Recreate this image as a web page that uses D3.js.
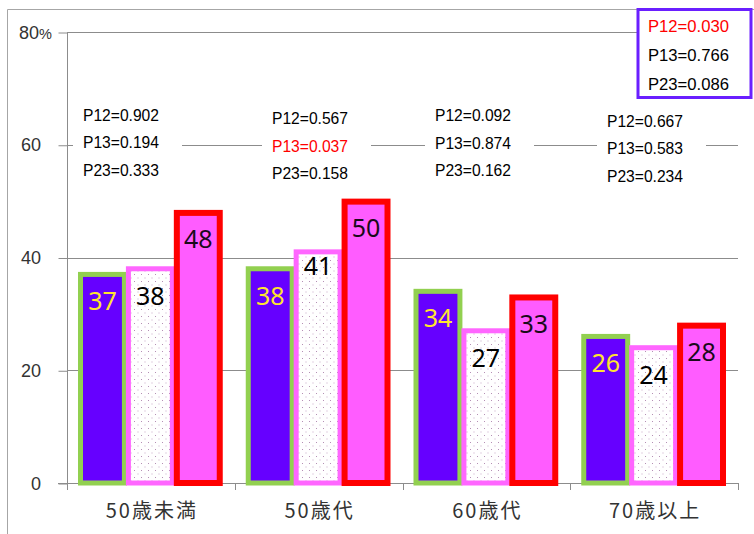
<!DOCTYPE html>
<html><head><meta charset="utf-8">
<script src="https://cdn.jsdelivr.net/npm/d3@7"></script>
<style>html,body{margin:0;padding:0;background:#fff;}svg{display:block;}</style>
</head><body>
<svg id="chart" width="754" height="534"></svg>
<script>
// ---- data ----
const categories = ["50歳未満", "50歳代", "60歳代", "70歳以上"];
const series1 = [37, 38, 34, 26];
const series2 = [38, 41, 27, 24];
const series3 = [48, 50, 33, 28];
const yTicks = [0, 20, 40, 60, 80];
const yTickLabels = ["0", "20", "40", "60", "80"];
// p-values per category, last entry = overall
const p12 = [0.902, 0.567, 0.092, 0.667, 0.030];
const p13 = [0.194, 0.037, 0.874, 0.583, 0.766];
const p23 = [0.333, 0.158, 0.162, 0.234, 0.086];

// ---- layout ----
const svg = d3.select("#chart");
const x = d3.scaleBand().domain(categories).range([67, 738]).padding(0);
const y = d3.scaleLinear().domain([0, 80]).range([483, 32]);
const xi = d3.scaleBand().domain([0, 1, 2]).range([11, x.bandwidth() - 13]).padding(0);
const axisColor = "#8c8c8c";

// outer frame
svg.append("path").attr("d", "M7.5,534V9.5H754").attr("fill", "none").attr("stroke", "#a6a6a6").attr("stroke-width", 1);

// pattern for series 2
const defs = svg.append("defs");
const pat = defs.append("pattern").attr("id", "dots").attr("patternUnits", "userSpaceOnUse")
  .attr("width", 7).attr("height", 7);
pat.append("rect").attr("width", 7).attr("height", 7).attr("fill", "#ffffff");
pat.append("rect").attr("x", 1).attr("y", 1).attr("width", 1).attr("height", 1).attr("fill", "#b58fb5");
pat.append("rect").attr("x", 4.5).attr("y", 4.5).attr("width", 1).attr("height", 1).attr("fill", "#c9a9c9");

// gridlines
svg.append("g").selectAll("line").data(yTicks.filter(d => d > 0)).join("line")
  .attr("x1", 67).attr("x2", 738)
  .attr("y1", d => Math.round(y(d)) + 0.5).attr("y2", d => Math.round(y(d)) + 0.5)
  .attr("stroke", axisColor).attr("stroke-width", 1);

// y axis
const yAxis = d3.axisLeft(y).tickValues(yTicks).tickSize(9).tickFormat("");
const gy = svg.append("g").attr("transform", "translate(67.5,0)").call(yAxis);
gy.select(".domain").attr("d", "M0,32V490");
gy.selectAll("line").attr("transform", "translate(0,0.5)");
gy.selectAll("path,line").attr("stroke", axisColor);

// y tick labels
svg.append("g").selectAll("text").data(yTicks).join("text")
  .attr("x", d => d === 80 ? 19 : 41)
  .attr("y", d => y(d) + 6.5)
  .attr("text-anchor", d => d === 80 ? "start" : "end")
  .attr("font-family", "Liberation Sans, Arial, sans-serif")
  .attr("font-size", 18).attr("fill", "#333")
  .each(function (d, i) {
    const t = d3.select(this);
    if (d === 80) {
      t.append("tspan").text(yTickLabels[i]);
      t.append("tspan").text("%").attr("font-size", 14.5);
    } else t.text(yTickLabels[i]);
  });

// x axis
svg.append("line").attr("x1", 58).attr("x2", 738).attr("y1", 483.5).attr("y2", 483.5).attr("stroke", axisColor);
const xEdges = categories.map(c => x(c)).concat([x.range()[1]]);
svg.append("g").selectAll("line").data(xEdges).join("line")
  .attr("x1", d => Math.round(d) + 0.5).attr("x2", d => Math.round(d) + 0.5)
  .attr("y1", 483).attr("y2", 490).attr("stroke", axisColor);

// bars
const seriesDefs = [
  { vals: series1, fill: "#6600ff", stroke: "#92d050", sw: 5, label: "#ffe52e" },
  { vals: series2, fill: "url(#dots)", stroke: "#ff66ff", sw: 5, label: "#000" },
  { vals: series3, fill: "#ff5cff", stroke: "#ff0000", sw: 6, label: "#1a0a1a" }
];
const labelShift = { "1-1": -13 };
seriesDefs.forEach((s, si) => {
  const g = svg.append("g");
  g.selectAll("rect").data(s.vals).join("rect")
    .attr("x", (v, ci) => x(categories[ci]) + xi(si) + s.sw / 2)
    .attr("y", v => y(v) + s.sw / 2 - 2.5)
    .attr("width", xi.bandwidth() - s.sw + 1)
    .attr("height", v => y(0) - y(v) - s.sw / 2 + 2.5)
    .attr("fill", s.fill).attr("stroke", s.stroke).attr("stroke-width", s.sw);
});
seriesDefs.forEach((s, si) => {
  svg.append("g").selectAll("text").data(s.vals).join("text")
    .attr("x", (v, ci) => x(categories[ci]) + xi(si) + xi.bandwidth() / 2 + 0.5)
    .attr("y", (v, ci) => y(v) + 36 + (labelShift[ci + "-" + si] || 0))
    .attr("text-anchor", "middle")
    .attr("font-family", "Noto Sans, sans-serif").attr("font-size", 25)
    .attr("fill", s.label).text(v => v);
});

// x labels
svg.append("g").selectAll("text").data(categories).join("text")
  .attr("x", c => x(c) + x.bandwidth() / 2 + 1)
  .attr("y", 518)
  .attr("text-anchor", "middle")
  .attr("font-family", "Noto Sans CJK JP, sans-serif").attr("font-size", 20)
  .attr("letter-spacing", 2).attr("fill", "#333").text(c => c);

// p-value boxes
const pTextX = [83, 272, 435, 607];
const pTextY = [114.5, 118, 115, 120.7];
const fmt = d3.format(".3f");
const pColor = v => v < 0.05 ? "#ff0000" : "#000";
categories.forEach((c, ci) => {
  const g = svg.append("g");
  g.append("rect").attr("x", pTextX[ci] - 10).attr("y", pTextY[ci] - 17.5)
    .attr("width", 109).attr("height", 87).attr("fill", "#fff");
  [["P12", p12], ["P13", p13], ["P23", p23]].forEach(([name, arr], k) => {
    g.append("text").attr("x", pTextX[ci]).attr("y", pTextY[ci] + k * 27.5 + 6)
      .attr("font-family", "Liberation Sans, Arial, sans-serif").attr("font-size", 16)
      .attr("textLength", 76).attr("lengthAdjust", "spacingAndGlyphs")
      .attr("fill", pColor(arr[ci])).text(name + "=" + fmt(arr[ci]));
  });
});
// overall box
const ob = svg.append("g");
ob.append("rect").attr("x", 638).attr("y", 9.5).attr("width", 113).attr("height", 88)
  .attr("fill", "#fff").attr("stroke", "#6a1fff").attr("stroke-width", 3);
[["P12", p12], ["P13", p13], ["P23", p23]].forEach(([name, arr], k) => {
  const i = p12.length - 1;
  ob.append("text").attr("x", 648).attr("y", 25 + k * 29 + 6.5)
    .attr("font-family", "Liberation Sans, Arial, sans-serif").attr("font-size", 17)
    .attr("textLength", 81).attr("lengthAdjust", "spacingAndGlyphs")
    .attr("fill", pColor(arr[i])).text(name + "=" + fmt(arr[i]));
});
</script>
</body></html>
